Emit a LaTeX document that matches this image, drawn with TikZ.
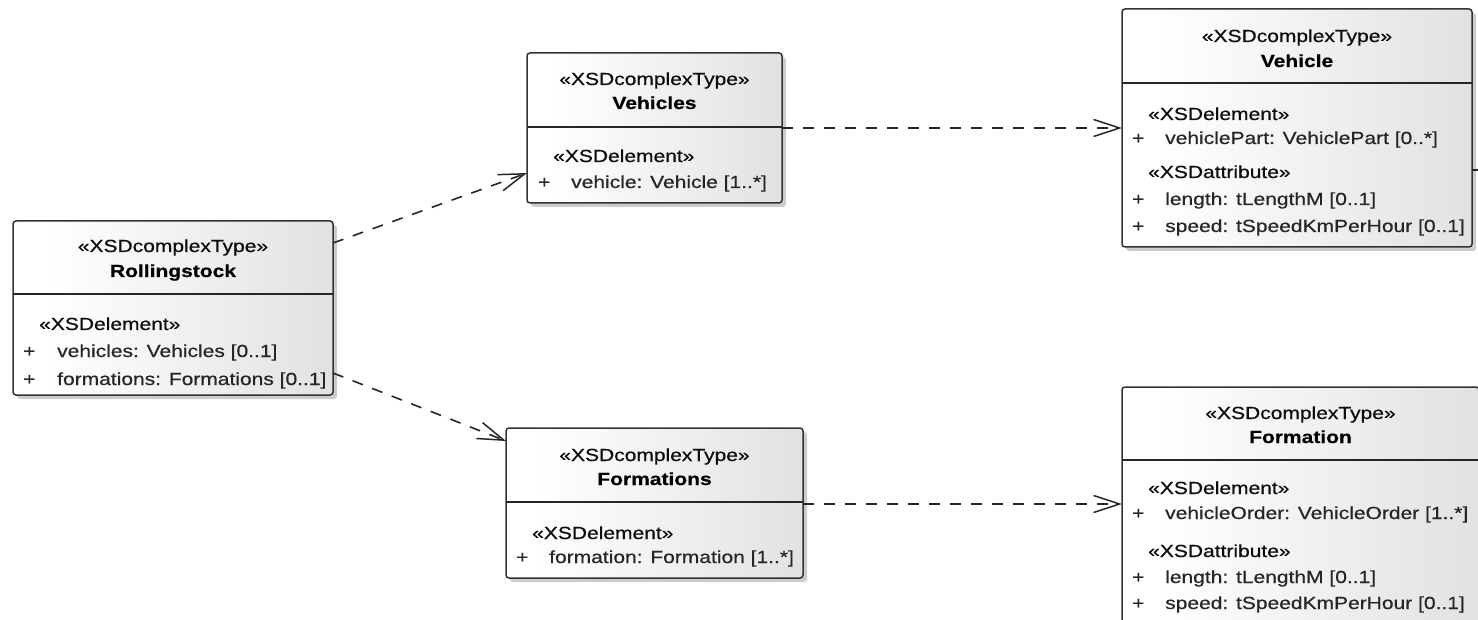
\documentclass[tikz,border=0pt]{standalone}
\usepackage{fontspec}
\newfontfamily\umlfont[FakeStretch=1.2, RawFeature={embolden=0.6}]{Liberation Sans}
\usetikzlibrary{arrows.meta,shadows,calc}
\pgfdeclarehorizontalshading{umlshade}{100bp}{color(0bp)=(black!5); color(10bp)=(white); color(30bp)=(white); color(100bp)=(black!18)}
\begin{document}
\begin{tikzpicture}[x=1pt,y=-1pt,
  umlbox/.style={draw=black!80, line width=1.5pt, rounded corners=3pt, shading=umlshade,
    drop shadow={shadow xshift=4pt,shadow yshift=-4pt,opacity=0.2,fill=black},
    anchor=north west, inner sep=0pt, outer sep=0pt},
  divline/.style={draw=black!85, line width=1.4pt},
  stereo/.style={font=\umlfont\fontsize{17.5}{20}\selectfont, text=black!95, inner sep=0pt, anchor=base},
  cname/.style={font=\umlfont\bfseries\fontsize{17.5}{20}\selectfont, text=black, inner sep=0pt, anchor=base},
  cstereo/.style={font=\umlfont\fontsize{17.5}{20}\selectfont, text=black!95, inner sep=0pt, anchor=base west},
  item/.style={font=\umlfont\fontsize{17.5}{20}\selectfont, text=black!85, inner sep=0pt, anchor=base west},
  dep/.style={draw=black!85, line width=1.6pt, dash pattern=on 11pt off 10pt,
    -{Straight Barb[length=26pt,width=17pt,line width=1.5pt]}},
  stub/.style={draw=black!85, line width=1.5pt}]
\clip (0,0) rectangle (1478,620);
\fill[white] (0,0) rectangle (1478,620);

% Rollingstock
\node[umlbox, minimum width=320pt, minimum height=174pt] (rs) at (13,221) {};
\draw[divline] ($(rs.north west)+(0,73)$) -- ($(rs.north east)+(0,73)$);
\node[stereo] (rs-s) at ($(rs.north)+(0,31)$) {«XSDcomplexType»};
\node[cname] (rs-n) at ($(rs.north)+(0,56)$) {Rollingstock};
\node[cstereo] (rs-e) at ($(rs.north west)+(26,109)$) {«XSDelement»};
\node[item] (rs-p1) at ($(rs.north west)+(10,136)$) {+};
\node[item] (rs-a1) at ($(rs.north west)+(44,136)$) {vehicles: Vehicles [0..1]};
\node[item] (rs-p2) at ($(rs.north west)+(10,164)$) {+};
\node[item] (rs-a2) at ($(rs.north west)+(44,164)$) {formations: Formations [0..1]};

% Vehicles
\node[umlbox, minimum width=255pt, minimum height=150pt] (vs) at (527,53) {};
\draw[divline] ($(vs.north west)+(0,74)$) -- ($(vs.north east)+(0,74)$);
\node[stereo] (vs-s) at ($(vs.north)+(0,32)$) {«XSDcomplexType»};
\node[cname] (vs-n) at ($(vs.north)+(0,56)$) {Vehicles};
\node[cstereo] (vs-e) at ($(vs.north west)+(26,109)$) {«XSDelement»};
\node[item] (vs-p1) at ($(vs.north west)+(11,135)$) {+};
\node[item] (vs-a1) at ($(vs.north west)+(44,135)$) {vehicle: Vehicle [1..*]};

% Formations
\node[umlbox, minimum width=297pt, minimum height=150pt] (fs) at (506,428) {};
\draw[divline] ($(fs.north west)+(0,74)$) -- ($(fs.north east)+(0,74)$);
\node[stereo] (fs-s) at ($(fs.north)+(0,33)$) {«XSDcomplexType»};
\node[cname] (fs-n) at ($(fs.north)+(0,57)$) {Formations};
\node[cstereo] (fs-e) at ($(fs.north west)+(26,111)$) {«XSDelement»};
\node[item] (fs-p1) at ($(fs.north west)+(10,135)$) {+};
\node[item] (fs-a1) at ($(fs.north west)+(43,135)$) {formation: Formation [1..*]};

% Vehicle
\node[umlbox, minimum width=350pt, minimum height=238pt] (veh) at (1122,9) {};
\draw[divline] ($(veh.north west)+(0,74)$) -- ($(veh.north east)+(0,74)$);
\node[stereo] (veh-s) at ($(veh.north)+(0,33)$) {«XSDcomplexType»};
\node[cname] (veh-n) at ($(veh.north)+(0,58)$) {Vehicle};
\node[cstereo] (veh-e) at ($(veh.north west)+(26,111)$) {«XSDelement»};
\node[item] (veh-p1) at ($(veh.north west)+(10,135)$) {+};
\node[item] (veh-a1) at ($(veh.north west)+(43,135)$) {vehiclePart: VehiclePart [0..*]};
\node[cstereo] (veh-t) at ($(veh.north west)+(26,169)$) {«XSDattribute»};
\node[item] (veh-p2) at ($(veh.north west)+(10,196)$) {+};
\node[item] (veh-a2) at ($(veh.north west)+(43,196)$) {length: tLengthM [0..1]};
\node[item] (veh-p3) at ($(veh.north west)+(10,223)$) {+};
\node[item] (veh-a3) at ($(veh.north west)+(43,223)$) {speed: tSpeedKmPerHour [0..1]};

% Formation
\node[umlbox, minimum width=357pt, minimum height=260pt] (fm) at (1122,387) {};
\draw[divline] ($(fm.north west)+(0,73)$) -- ($(fm.north east)+(0,73)$);
\node[stereo] (fm-s) at ($(fm.north)+(0,32)$) {«XSDcomplexType»};
\node[cname] (fm-n) at ($(fm.north)+(0,56)$) {Formation};
\node[cstereo] (fm-e) at ($(fm.north west)+(26,107)$) {«XSDelement»};
\node[item] (fm-p1) at ($(fm.north west)+(10,132)$) {+};
\node[item] (fm-a1) at ($(fm.north west)+(43,132)$) {vehicleOrder: VehicleOrder [1..*]};
\node[cstereo] (fm-t) at ($(fm.north west)+(26,170)$) {«XSDattribute»};
\node[item] (fm-p2) at ($(fm.north west)+(10,196)$) {+};
\node[item] (fm-a2) at ($(fm.north west)+(43,196)$) {length: tLengthM [0..1]};
\node[item] (fm-p3) at ($(fm.north west)+(10,222)$) {+};
\node[item] (fm-a3) at ($(fm.north west)+(43,222)$) {speed: tSpeedKmPerHour [0..1]};

% connectors
\draw[dep] ($(rs.north east)+(0,22)$) -- ($(vs.north west)+(0,120)$);
\draw[dep] ($(rs.north east)+(0,152)$) -- ($(fs.north west)+(0,13)$);
\draw[dep] ($(vs.north east)+(0,75)$) -- ($(veh.north west)+(0,119)$);
\draw[dep] ($(fs.north east)+(0,76)$) -- ($(fm.north west)+(0,117)$);
\draw[stub] ($(veh.north east)+(0,161)$) -- ++(12,0);
\end{tikzpicture}
\end{document}
